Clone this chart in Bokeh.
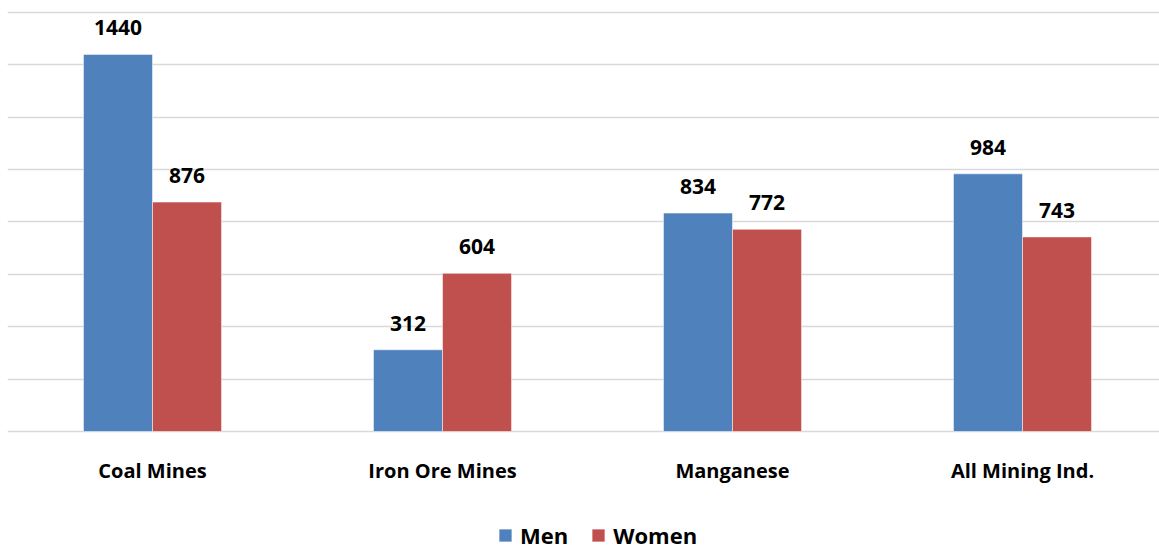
from bokeh.plotting import figure
from bokeh.models import ColumnDataSource, Range1d, FixedTicker, LabelSet, Legend, LegendItem
from bokeh.core.properties import value
from bokeh.embed import file_html
from bokeh.resources import INLINE

categories = ["Coal Mines", "Iron Ore Mines", "Manganese", "All Mining Ind."]
men = [1440, 312, 834, 984]
women = [876, 604, 772, 743]

BLUE = "#4F81BD"
RED = "#C0504D"
FONT = "Open Sans"

p = figure(width=1159, height=551, output_backend="svg", toolbar_location=None,
           x_range=Range1d(-0.5, 3.4724), y_range=Range1d(-458.2, 1645.8),
           min_border_left=7, min_border_right=0, min_border_top=0, min_border_bottom=0)
p.outline_line_color = None
p.background_fill_color = "white"
p.border_fill_color = "white"
p.xaxis.visible = False
p.yaxis.visible = False
p.xgrid.grid_line_color = None
p.ygrid.ticker = FixedTicker(ticks=[0, 200, 400, 600, 800, 1000, 1200, 1400, 1600])
p.ygrid.grid_line_color = "#D9D9D9"
p.ygrid.grid_line_width = 1.6

bw = 0.238
idx = list(range(len(categories)))
src = ColumnDataSource(dict(
    x=idx, zero=[0] * len(idx), cat=categories,
    xm=[i - bw / 2 for i in idx], xw=[i + bw / 2 for i in idx],
    men=men, women=women,
    men_lbl=[str(v) for v in men], women_lbl=[str(v) for v in women]))

rm = p.vbar(x="xm", top="men", width=bw, bottom=0, source=src, fill_color=BLUE,
            line_color="white", line_width=0.5)
rw = p.vbar(x="xw", top="women", width=bw, bottom=0, source=src, fill_color=RED,
            line_color="white", line_width=0.5)

for xcol, ycol, tcol in (("xm", "men", "men_lbl"), ("xw", "women", "women_lbl")):
    lab = LabelSet(x=xcol, y=ycol, text=tcol, source=src, text_align="center",
                   text_baseline="alphabetic", y_offset=19, text_font=value(FONT),
                   text_font_style="bold", text_font_size="21px", text_color="black")
    p.add_layout(lab)

cat_lab = LabelSet(x="x", y="zero", text="cat", source=src, text_align="center",
                   text_baseline="alphabetic", y_offset=-46, text_font=value(FONT),
                   text_font_style="bold", text_font_size="20px", text_color="black")
p.add_layout(cat_lab)

legend = Legend(items=[LegendItem(label="Men", renderers=[rm]),
                       LegendItem(label="Women", renderers=[rw])],
                orientation="horizontal", location=(490, 1),
                label_text_font=FONT, label_text_font_style="bold",
                label_text_font_size="22px", label_text_color="black",
                glyph_width=16, glyph_height=16, spacing=22, label_standoff=7,
                border_line_color=None, background_fill_alpha=0,
                margin=0, padding=0)
p.add_layout(legend)

open("out.html", "w").write(file_html(p, INLINE))
